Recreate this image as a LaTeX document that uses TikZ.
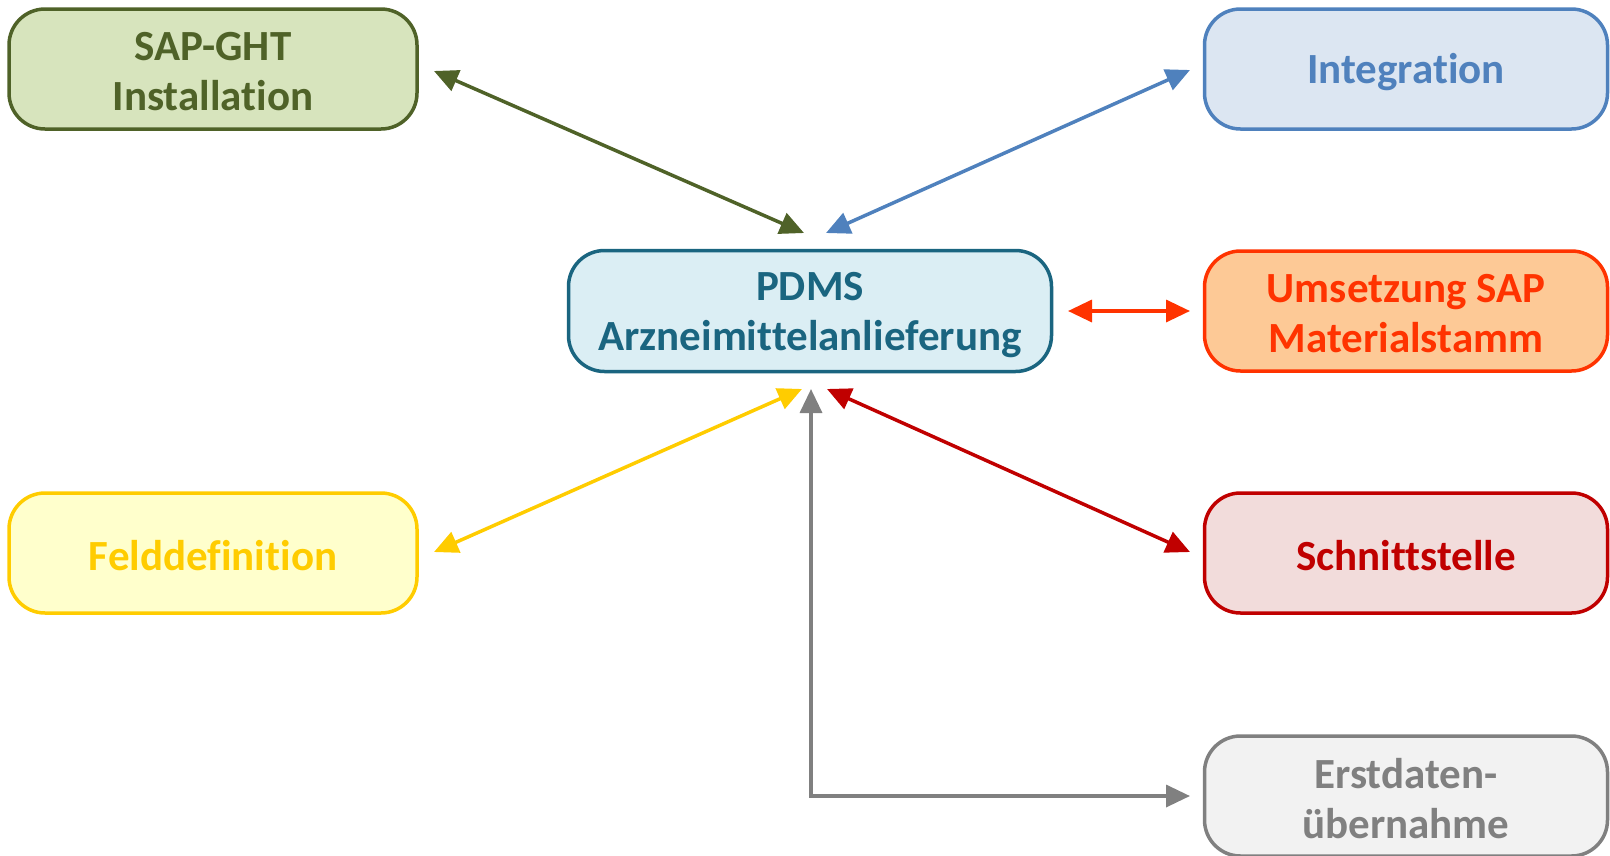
\documentclass[tikz,border=0pt]{standalone}
\usepackage{fontspec}
\setmainfont[Ligatures={NoCommon}]{Carlito}
\usetikzlibrary{arrows.meta}
\definecolor{grnD}{HTML}{4F6228}\definecolor{grnL}{HTML}{D7E4BD}
\definecolor{bluD}{HTML}{4F81BD}\definecolor{bluL}{HTML}{DCE6F2}
\definecolor{tealD}{HTML}{1A6580}\definecolor{tealL}{HTML}{DBEEF4}
\definecolor{orgD}{HTML}{FF3300}\definecolor{orgL}{HTML}{FDC996}
\definecolor{yelD}{HTML}{FFCC00}\definecolor{yelL}{HTML}{FFFFCC}
\definecolor{redD}{HTML}{C00000}\definecolor{redL}{HTML}{F2DCDB}
\definecolor{gryD}{HTML}{808080}\definecolor{gryL}{HTML}{F2F2F2}
\begin{document}
\begin{tikzpicture}[x=1pt,y=-1pt,
  box/.style={draw=#1D, fill=#1L, line width=3.5pt, rounded corners=36pt,
    minimum height=120pt},
  lbl/.style={text=#1D, align=center, font=\fontsize{43}{50}\selectfont\bfseries},
  link/.style={draw=#1, line width=3.5pt,
    {Triangle[length=24pt,width=22pt]}-{Triangle[length=24pt,width=22pt]}}]
\useasboundingbox (0,0) rectangle (1610,855);

% boxes
\node[box=grn, minimum width=408pt] (sap)  at (213,69)  {};
\node[box=yel, minimum width=408pt] (feld) at (213,553) {};
\node[box=teal, minimum width=483pt, minimum height=121pt] (pdms) at (810,311) {};
\node[box=blu, minimum width=403pt] (integ) at (1406,69)  {};
\node[box=org, minimum width=403pt] (umset) at (1406,311) {};
\node[box=red, minimum width=403pt] (schn)  at (1406,553) {};
\node[box=gry, minimum width=403pt] (erst)  at (1406,796) {};

% labels
\node[lbl=grn]  (sapT)   at ([yshift=-3pt]sap.center)   {SAP-GHT\\Installation};
\node[lbl=yel]  (feldT)  at ([yshift=-3pt]feld.center)  {Felddefinition};
\node[lbl=teal] (pdmsT)  at ([yshift=-4pt]pdms.center)  {PDMS\\Arzneimittelanlieferung};
\node[lbl=blu]  (integT) at ([yshift=-3pt]integ.center) {Integration};
\node[lbl=org]  (umsetT) at ([yshift=-3pt]umset.center) {Umsetzung SAP\\Materialstamm};
\node[lbl=red]  (schnT)  at ([yshift=-3pt]schn.center)  {Schnittstelle};
\node[lbl=gry]  (erstT)  at ([yshift=-3pt]erst.center)  {Erstdaten-\\übernahme};

% arrow end points
\coordinate (sapE)   at (434,71);
\coordinate (pdmsNW) at (804,233);
\coordinate (pdmsNE) at (826,233);
\coordinate (integW) at (1190,70);
\coordinate (pdmsE)  at (1068,311);
\coordinate (umsetW) at (1190,311);
\coordinate (pdmsSW) at (802,389);
\coordinate (feldE)  at (434,552);
\coordinate (pdmsS)  at (811,389);
\coordinate (pdmsSE) at (827,389);
\coordinate (schnW)  at (1190,552);
\coordinate (erstW)  at (1190,796);
\coordinate (corner) at (811,796);

% connectors
\draw[link=grnD] (sapE) -- (pdmsNW);
\draw[link=bluD] (pdmsNE) -- (integW);
\draw[link=orgD] (pdmsE) -- (umsetW);
\draw[link=yelD] (pdmsSW) -- (feldE);
\draw[link=redD] (pdmsSE) -- (schnW);
\draw[link=gryD] (pdmsS) -- (corner) -- (erstW);
\end{tikzpicture}
\end{document}
